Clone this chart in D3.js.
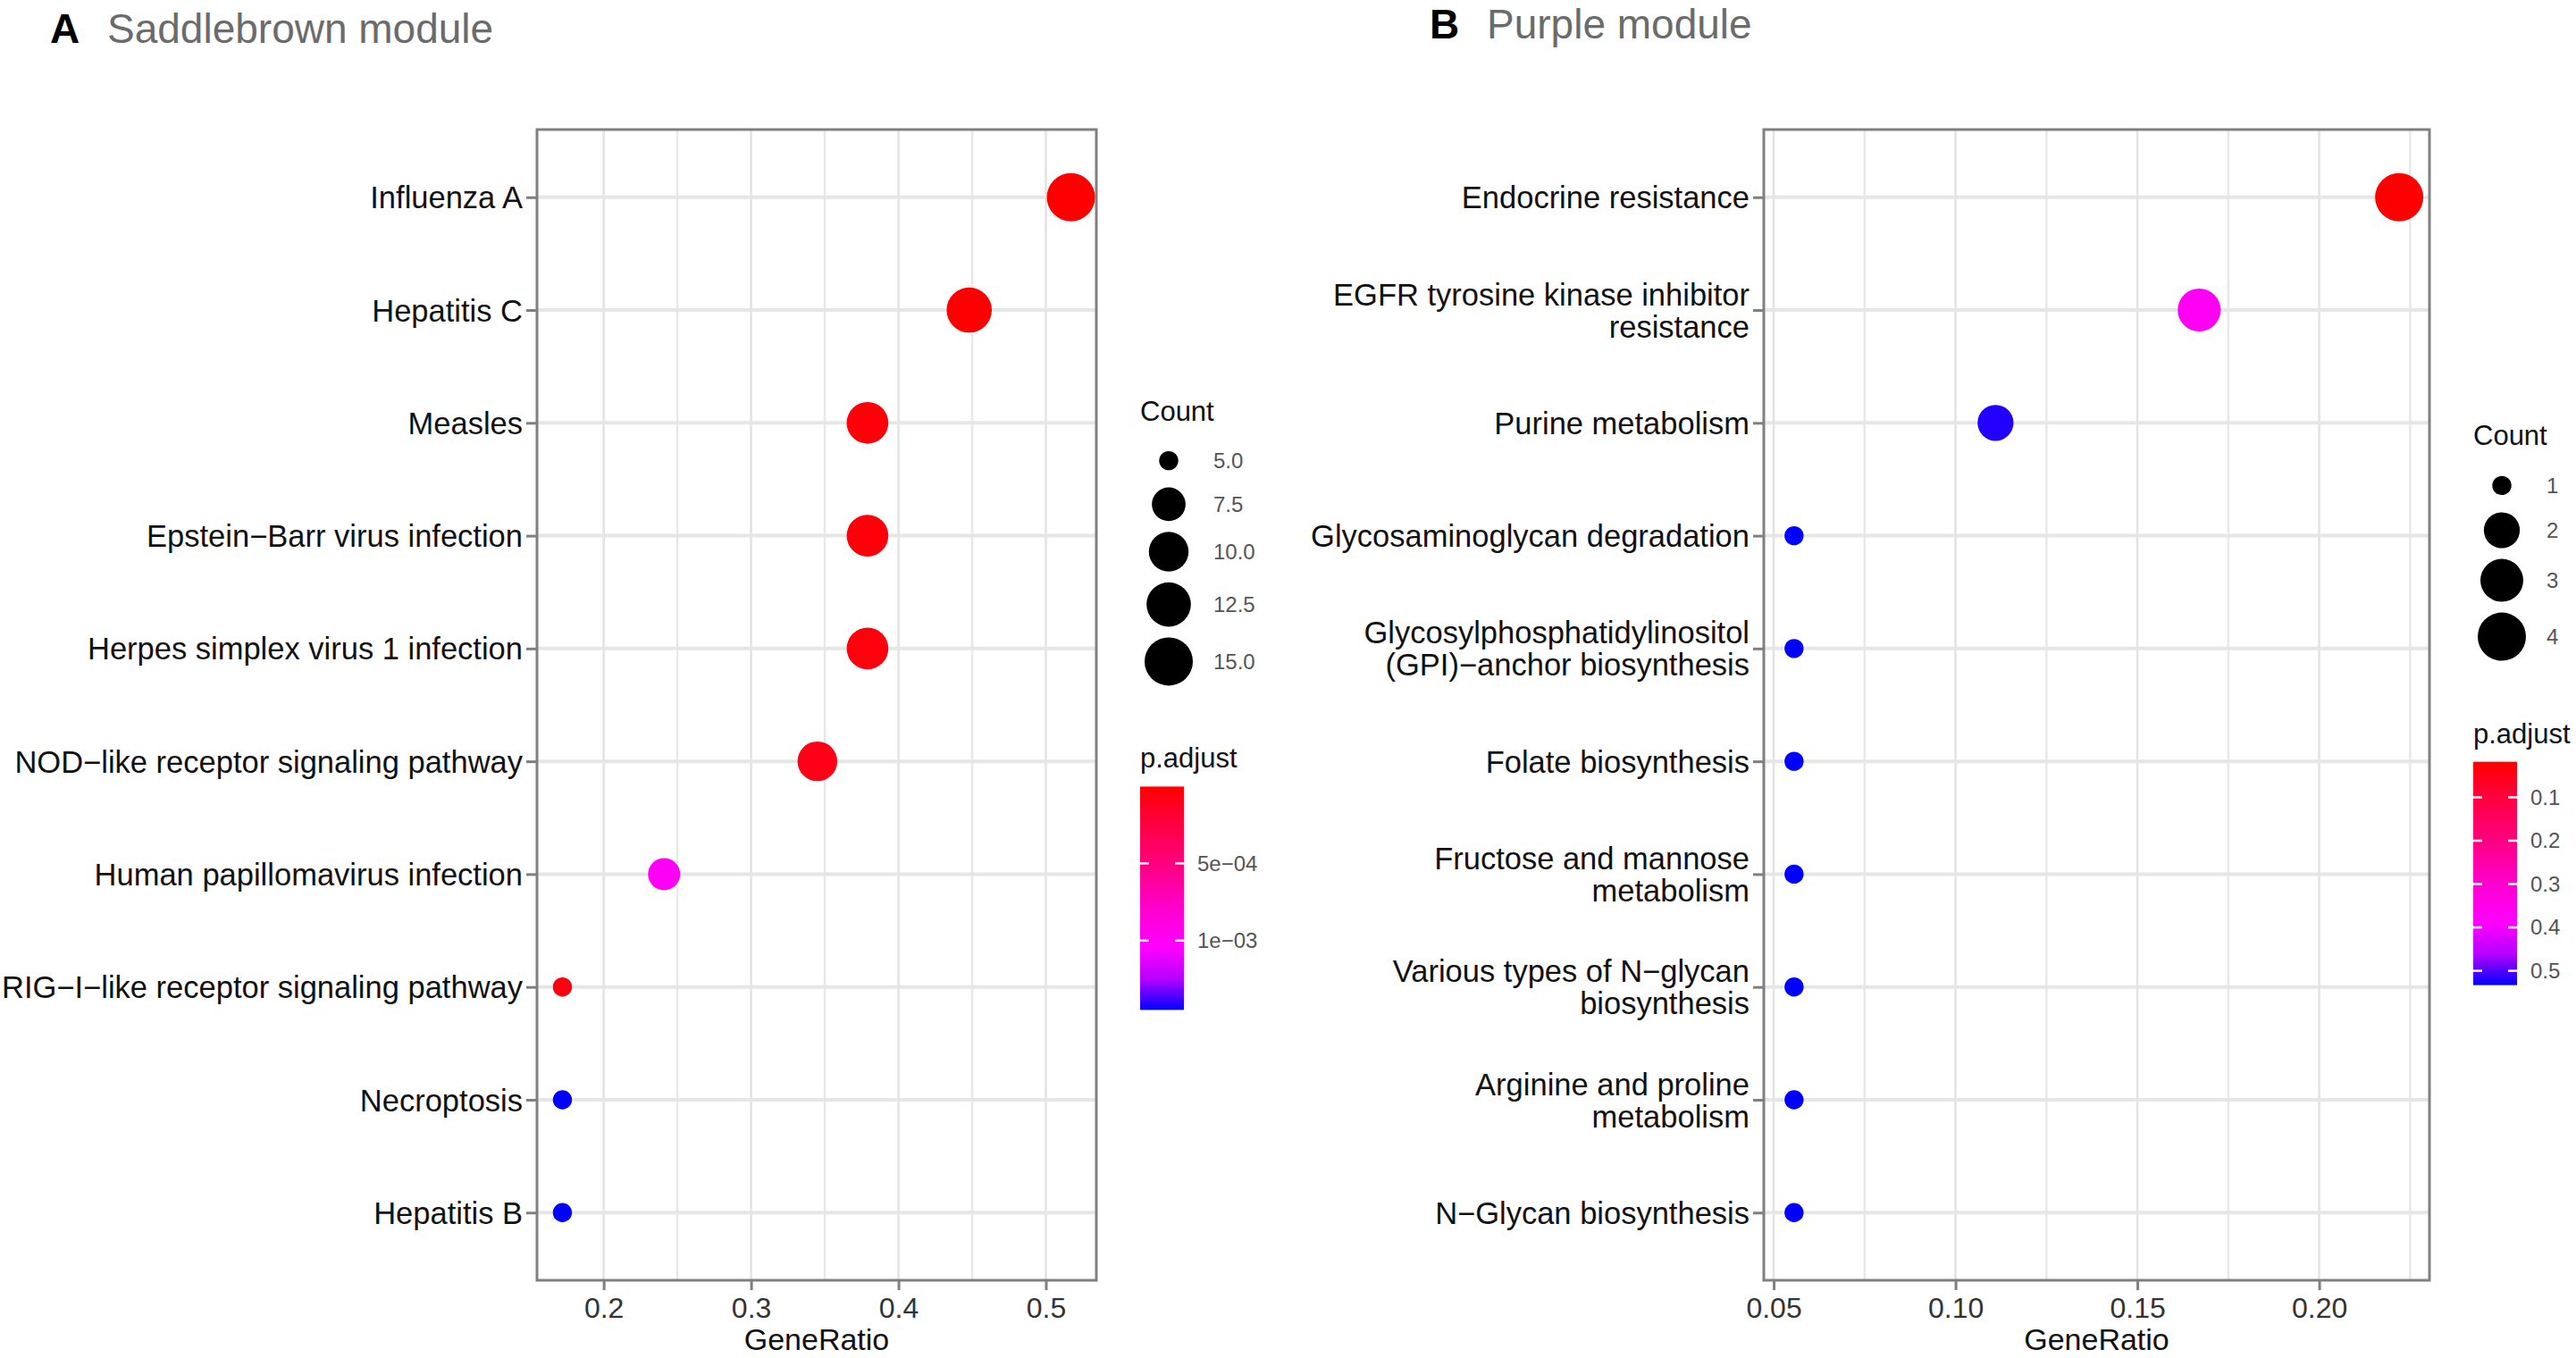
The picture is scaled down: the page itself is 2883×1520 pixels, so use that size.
<!DOCTYPE html>
<html>
<head>
<meta charset="utf-8">
<script src="https://cdn.jsdelivr.net/npm/d3@7"></script>
<style>
  body { margin: 0; background: #fff; }
  svg { display: block; font-family: "Liberation Sans", Arial, sans-serif; }
  .axis path { display: none; }
  .axis line { stroke: #7f7f7f; stroke-width: 3; }
  .y-axis text { fill: #111; font-size: 34.5px; }
  .x-axis text { fill: #333; font-size: 32px; }
</style>
</head>
<body>
<div id="chart"></div>
<script>
// ---- panel A: Saddlebrown module ----
const termsA = ['Influenza A', 'Hepatitis C', 'Measles', 'Epstein\u2212Barr virus infection',
  'Herpes simplex virus 1 infection', 'NOD\u2212like receptor signaling pathway',
  'Human papillomavirus infection', 'RIG\u2212I\u2212like receptor signaling pathway',
  'Necroptosis', 'Hepatitis B'];
const ratioA = [0.517, 0.448, 0.379, 0.379, 0.379, 0.345, 0.241, 0.172, 0.172, 0.172];
const countA = [15, 13, 11, 11, 11, 10, 7, 5, 5, 5];
const padjA = [2e-6, 5e-6, 3e-5, 4e-5, 5e-5, 8e-5, 1.0e-3, 6e-5, 1.45e-3, 1.45e-3];
const xTicksA = [0.2, 0.3, 0.4, 0.5];
const xMinorA = [0.25, 0.35, 0.45];
const sizeBreaksA = [5, 7.5, 10, 12.5, 15];
const colorBreaksA = [5e-4, 1e-3];
const colorLabelsA = ['5e\u221204', '1e\u221203'];

// ---- panel B: Purple module ----
const termsB = ['Endocrine resistance', 'EGFR tyrosine kinase inhibitor\nresistance',
  'Purine metabolism', 'Glycosaminoglycan degradation',
  'Glycosylphosphatidylinositol\n(GPI)\u2212anchor biosynthesis', 'Folate biosynthesis',
  'Fructose and mannose\nmetabolism', 'Various types of N\u2212glycan\nbiosynthesis',
  'Arginine and proline\nmetabolism', 'N\u2212Glycan biosynthesis'];
const ratioB = [0.222, 0.167, 0.111, 0.0556, 0.0556, 0.0556, 0.0556, 0.0556, 0.0556, 0.0556];
const countB = [4, 3, 2, 1, 1, 1, 1, 1, 1, 1];
const padjB = [0.018, 0.37, 0.52, 0.533, 0.533, 0.533, 0.533, 0.533, 0.533, 0.533];
const xTicksB = [0.05, 0.10, 0.15, 0.20];
const xMinorB = [0.075, 0.125, 0.175, 0.225];
const sizeBreaksB = [1, 2, 3, 4];
const colorBreaksB = [0.1, 0.2, 0.3, 0.4, 0.5];
const colorLabelsB = ['0.1', '0.2', '0.3', '0.4', '0.5'];

const W = 2883, H = 1520;
const svg = d3.select('#chart').append('svg').attr('width', W).attr('height', H);

// red -> magenta -> blue, as the reference gradient looks
const gradient = d3.scaleLinear()
  .domain([0, 0.12, 0.35, 0.55, 0.72, 0.86, 1])
  .range(['#ff0000', '#ff0030', '#ff0080', '#ff00d0', '#ff00ff', '#b800ff', '#0000ff'])
  .interpolate(d3.interpolateRgb)
  .clamp(true);

function drawPanel(cfg) {
  const m = cfg.box;
  const data = cfg.terms.map((t, i) => ({term: t, ratio: cfg.ratio[i], count: cfg.count[i], p: cfg.padj[i]}));

  const ext = d3.extent(cfg.ratio);
  const pad = (ext[1] - ext[0]) * 0.05;
  const x = d3.scaleLinear().domain([ext[0] - pad, ext[1] + pad]).range([m.left, m.right]);
  const y = d3.scalePoint().domain(cfg.terms).range([m.top, m.bottom]).padding(0.6);

  const cMin = d3.min(cfg.count), cMax = d3.max(cfg.count);
  const rScale = d3.scalePow().exponent(0.5).domain([0, cMax - cMin]).range([10.7, 27]);
  const r = c => rScale(c - cMin);

  const pExt = d3.extent(cfg.padj);
  const tScale = d3.scaleLinear().domain(pExt).range([0, 1]);
  const color = p => gradient(tScale(p));

  const g = svg.append('g');

  // grid
  g.selectAll('.minor').data(cfg.xMinor).join('line')
    .attr('x1', d => x(d)).attr('x2', d => x(d))
    .attr('y1', m.top).attr('y2', m.bottom)
    .attr('stroke', '#e8e8e8').attr('stroke-width', 2.5);
  g.selectAll('.vmajor').data(cfg.xTicks).join('line')
    .attr('x1', d => x(d)).attr('x2', d => x(d))
    .attr('y1', m.top).attr('y2', m.bottom)
    .attr('stroke', '#e3e3e3').attr('stroke-width', 2.5);
  g.selectAll('.hmajor').data(cfg.terms).join('line')
    .attr('x1', m.left).attr('x2', m.right)
    .attr('y1', d => y(d)).attr('y2', d => y(d))
    .attr('stroke', '#e6e6e6').attr('stroke-width', 4);

  // dots
  g.selectAll('.dot').data(data).join('circle')
    .attr('cx', d => x(d.ratio))
    .attr('cy', d => y(d.term))
    .attr('r', d => r(d.count))
    .attr('fill', d => color(d.p));

  // border
  g.append('rect')
    .attr('x', m.left).attr('y', m.top)
    .attr('width', m.right - m.left).attr('height', m.bottom - m.top)
    .attr('fill', 'none').attr('stroke', '#808080').attr('stroke-width', 3);

  // axes
  const xAxis = d3.axisBottom(x).tickValues(cfg.xTicks).tickFormat(d3.format(cfg.xFormat))
    .tickSize(11).tickPadding(8);
  g.append('g').attr('class', 'axis x-axis')
    .attr('transform', `translate(0,${m.bottom})`)
    .call(xAxis);

  const yAxis = d3.axisLeft(y).tickSize(12).tickPadding(4);
  const yG = g.append('g').attr('class', 'axis y-axis')
    .attr('transform', `translate(${m.left},0)`)
    .call(yAxis);
  yG.selectAll('text').each(function(d) {
    const lines = d.split('\n');
    const t = d3.select(this).text(null).attr('dy', null);
    const lh = 36;
    lines.forEach((ln, i) => {
      t.append('tspan')
        .attr('x', -16)
        .attr('y', (i - (lines.length - 1) / 2) * lh)
        .attr('dy', '0.35em')
        .text(ln);
    });
  });

  g.append('text')
    .attr('x', (m.left + m.right) / 2).attr('y', 1511)
    .attr('text-anchor', 'middle')
    .attr('font-size', 34).attr('fill', '#111')
    .text('GeneRatio');

  // title
  g.append('text')
    .attr('x', cfg.title.x).attr('y', cfg.title.y)
    .attr('font-size', 46).attr('font-weight', 'bold').attr('fill', '#000')
    .text(cfg.title.tag);
  g.append('text')
    .attr('x', cfg.title.x + 64).attr('y', cfg.title.y)
    .attr('font-size', 46).attr('fill', '#6b6b6b')
    .text(cfg.title.text);

  // legends
  const lx = m.right + 49;
  const keyH = cfg.sizeBreaks.map(b => Math.max(48, 2 * r(b) + 12));
  const total = 23 + 21 + d3.sum(keyH) + 86 + 21 + 250;
  const y0 = (m.top + m.bottom) / 2 - total / 2 + 23;

  const lg = svg.append('g');
  lg.append('text').attr('x', lx).attr('y', y0)
    .attr('font-size', 31).attr('fill', '#111').text('Count');

  let ky = y0 + 21;
  cfg.sizeBreaks.forEach((b, i) => {
    const cy = ky + keyH[i] / 2;
    lg.append('circle').attr('cx', lx + 32).attr('cy', cy).attr('r', r(b)).attr('fill', '#000');
    lg.append('text').attr('x', lx + 82).attr('y', cy).attr('dy', '0.35em')
      .attr('font-size', 24).attr('fill', '#555')
      .text(cfg.sizeFormat(b));
    ky += keyH[i];
  });

  const pY = ky + 86;
  lg.append('text').attr('x', lx).attr('y', pY)
    .attr('font-size', 31).attr('fill', '#111').text('p.adjust');

  const barTop = pY + 21, barH = 250, barW = 49;
  const gid = 'grad' + cfg.title.tag;
  const grad = svg.append('defs').append('linearGradient')
    .attr('id', gid).attr('x1', 0).attr('y1', 0).attr('x2', 0).attr('y2', 1);
  d3.range(0, 1.0001, 0.02).forEach(t => {
    grad.append('stop').attr('offset', t).attr('stop-color', gradient(t));
  });
  lg.append('rect').attr('x', lx).attr('y', barTop)
    .attr('width', barW).attr('height', barH).attr('fill', `url(#${gid})`);

  const barY = d3.scaleLinear().domain(pExt).range([barTop, barTop + barH]);
  cfg.colorBreaks.forEach((b, i) => {
    const yy = barY(b);
    lg.append('line').attr('x1', lx).attr('x2', lx + 10).attr('y1', yy).attr('y2', yy)
      .attr('stroke', '#fff').attr('stroke-width', 2.5);
    lg.append('line').attr('x1', lx + barW - 10).attr('x2', lx + barW).attr('y1', yy).attr('y2', yy)
      .attr('stroke', '#fff').attr('stroke-width', 2.5);
    lg.append('text').attr('x', lx + 64).attr('y', yy).attr('dy', '0.35em')
      .attr('font-size', 24).attr('fill', '#555')
      .text(cfg.colorLabels[i]);
  });
}

drawPanel({
  box: {left: 601, right: 1227, top: 145, bottom: 1433},
  terms: termsA, ratio: ratioA, count: countA, padj: padjA,
  xTicks: xTicksA, xMinor: xMinorA, xFormat: '.1f',
  sizeBreaks: sizeBreaksA, sizeFormat: d3.format('.1f'),
  colorBreaks: colorBreaksA, colorLabels: colorLabelsA,
  title: {tag: 'A', text: 'Saddlebrown module', x: 56, y: 48}
});

drawPanel({
  box: {left: 1974, right: 2719, top: 145, bottom: 1433},
  terms: termsB, ratio: ratioB, count: countB, padj: padjB,
  xTicks: xTicksB, xMinor: xMinorB, xFormat: '.2f',
  sizeBreaks: sizeBreaksB, sizeFormat: d3.format('d'),
  colorBreaks: colorBreaksB, colorLabels: colorLabelsB,
  title: {tag: 'B', text: 'Purple module', x: 1600, y: 43}
});
</script>
</body>
</html>
